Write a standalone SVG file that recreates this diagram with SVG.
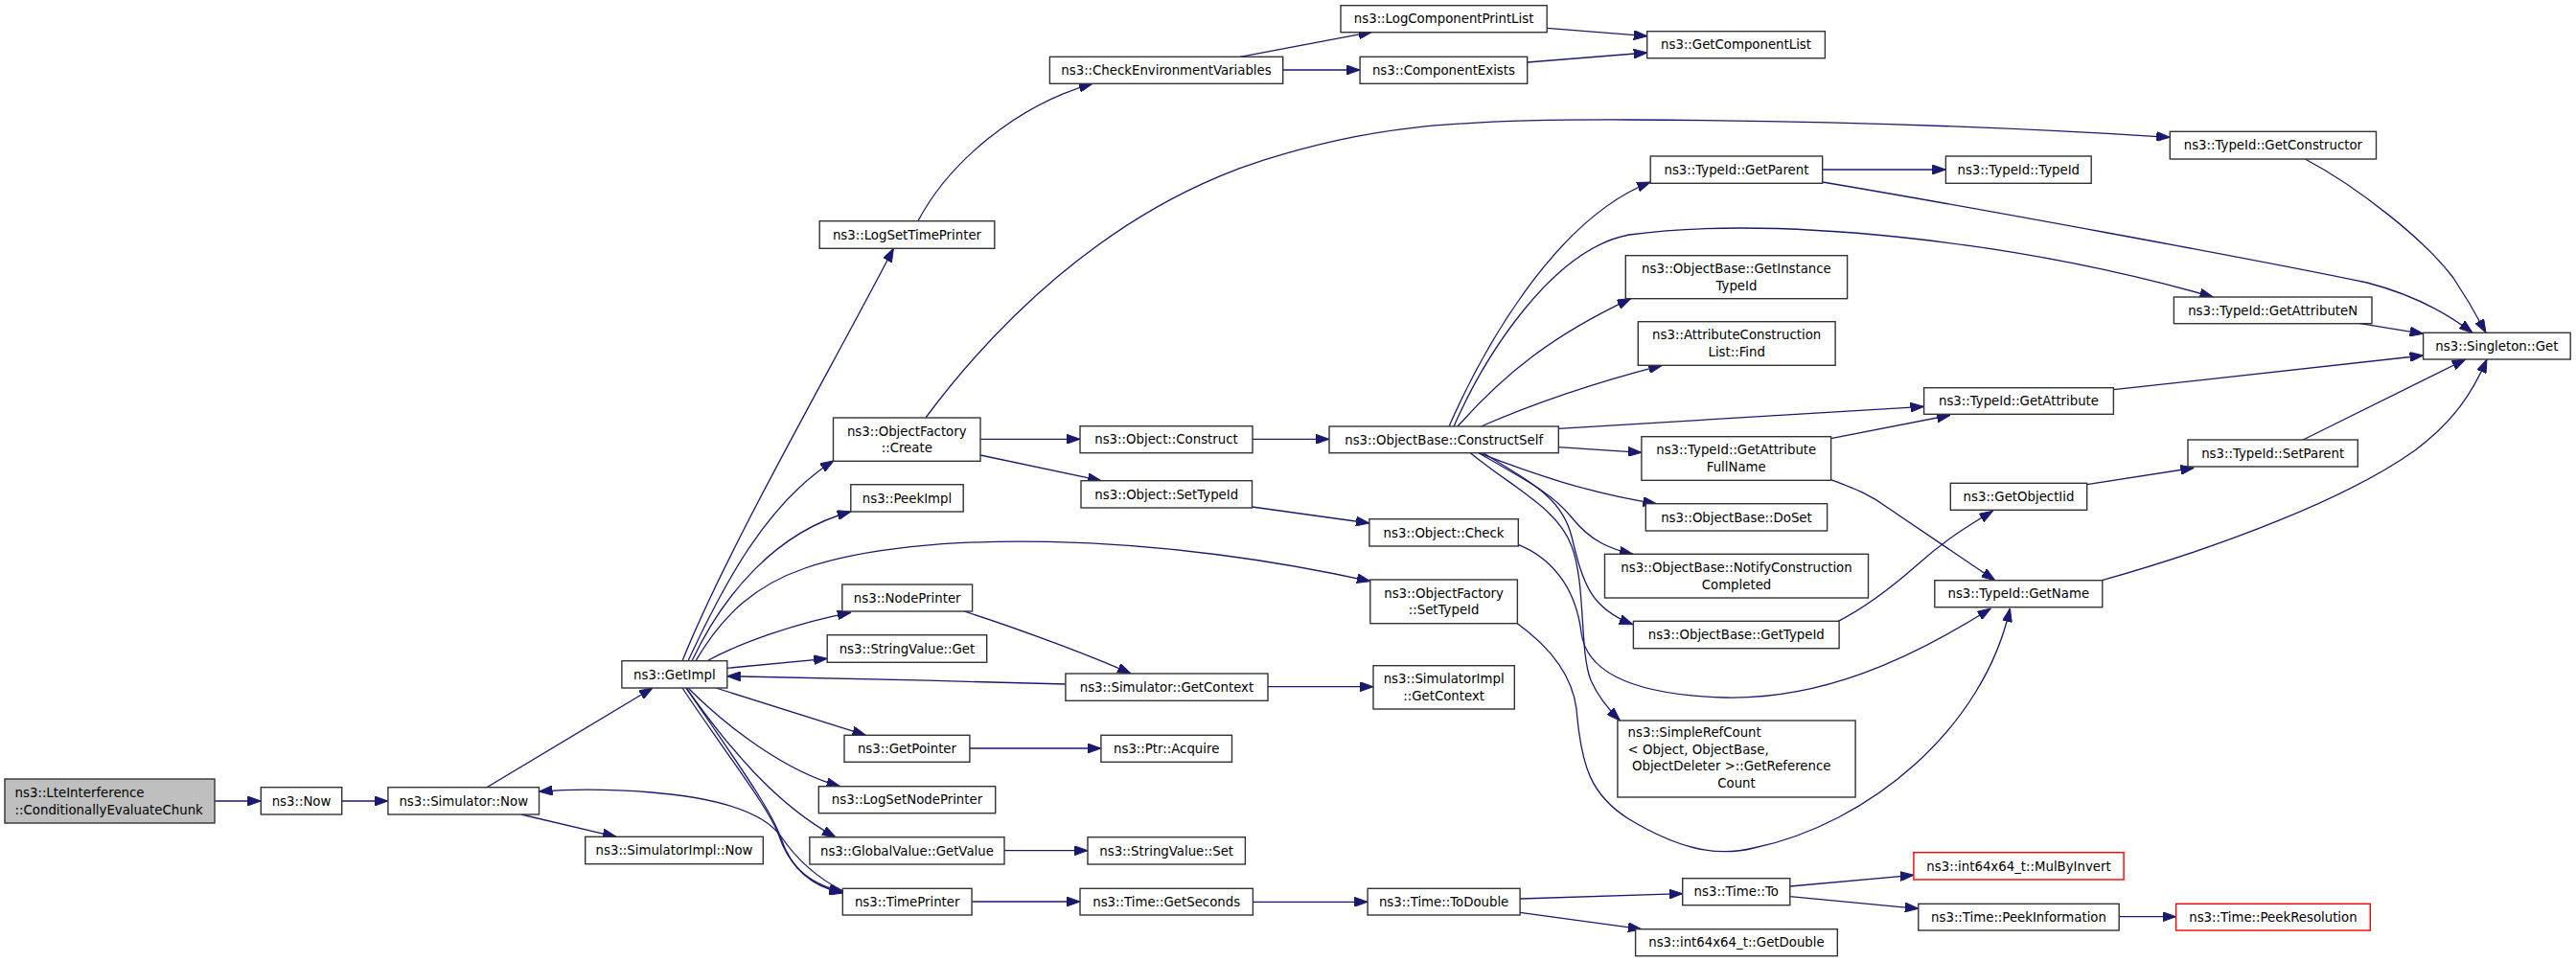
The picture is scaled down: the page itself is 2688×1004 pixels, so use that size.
<svg xmlns="http://www.w3.org/2000/svg" width="2688" height="1004" viewBox="0 0 2688 1004">
<defs>
<marker id="a" markerWidth="14" markerHeight="10" refX="14" refY="5" orient="auto" markerUnits="userSpaceOnUse"><path d="M0,0 L14,5 L0,10 z" fill="#191970" stroke="#191970" stroke-width="1"/></marker>
<style>
.n rect{fill:#ffffff;stroke:#333333;stroke-width:1.4}
.root rect{fill:#bfbfbf}
.red rect{stroke:#ff0000}
text{font-family:"DejaVu Sans","Liberation Sans",sans-serif;font-size:13.3px;fill:#000000;text-anchor:middle}
text.l{text-anchor:start}
#edges path{fill:none;stroke:#191970;stroke-width:1.3;marker-end:url(#a)}
</style>
</defs>
<rect x="0" y="0" width="2688" height="1004" fill="#ffffff"/>
<g id="edges">
<path d="M224,836 L272.3,836"/>
<path d="M356.7,836 L404.9,836"/>
<path d="M508,821.7 L681,718"/>
<path d="M543.8,850 L643,873.3"/>
<path d="M880,930 C850,915 830,895 815,873 C795,845 740,832 680,827 C630,823 590,824 562.5,826"/>
<path d="M712,689.7 C760,570 870,380 932.4,259.3"/>
<path d="M718,689.7 C755,610 800,525 870,480.7"/>
<path d="M722,689.7 C755,620 810,555 887.8,534"/>
<path d="M726,689.7 C755,640 790,610 840,593 C960,552 1200,556 1429.8,606.7"/>
<path d="M738,689.7 C770,672 830,650 887.8,639.3"/>
<path d="M758.8,697.3 L863.2,687.3"/>
<path d="M1111.9,714 C1000,711 850,707 758.8,705.7"/>
<path d="M1006,638 C1060,655 1140,685 1180,703"/>
<path d="M747,718 L903.4,767.3"/>
<path d="M1011.9,781 L1148.9,781"/>
<path d="M718,718 C760,760 820,805 876.6,820.7"/>
<path d="M716,718 C760,780 810,840 872,873.7"/>
<path d="M712,718 C760,790 800,840 812,870 C822,900 840,922 879.3,930.7"/>
<path d="M716,718 C765,790 805,845 815,875 C825,905 845,925 879.3,932"/>
<path d="M1048,887.7 L1135,887.7"/>
<path d="M1014.1,941 L1127,941"/>
<path d="M1307.4,941.3 L1427.1,941.3"/>
<path d="M1586.1,938 L1755.7,932.7"/>
<path d="M1586.1,952.3 L1712.9,969.7"/>
<path d="M1867.8,925 L1996.9,913.3"/>
<path d="M1867.8,935.7 L2001.8,948.3"/>
<path d="M2211.2,956.7 L2270.6,956.7"/>
<path d="M1323,716.7 L1433,716.7"/>
<path d="M957.9,230.7 C990,170 1060,110 1140,87.3"/>
<path d="M965.9,436 C1030,350 1150,220 1320,166.7 C1420,135 1500,124 1700,125 C1950,126 2150,136 2264.3,143.3"/>
<path d="M1294,59.3 L1431.6,33.3"/>
<path d="M1338.7,73 L1419.1,73"/>
<path d="M1614.2,29.3 L1718.7,37.7"/>
<path d="M1593.7,65 L1718.7,55"/>
<path d="M1307,458.3 L1387,458.3"/>
<path d="M1023,458.3 L1127,458.3"/>
<path d="M1023,475 L1149,501.7"/>
<path d="M1306.5,529 L1428.9,546"/>
<path d="M1512,445 C1545,370 1620,230 1722.2,190"/>
<path d="M1517,445 C1550,370 1620,260 1700,245 C1850,225 2100,250 2309.4,310"/>
<path d="M1521,445 C1570,390 1620,350 1701.7,311.7"/>
<path d="M1545.4,445 Q1630,408 1734.3,381.3"/>
<path d="M1626.3,447.3 L2007.5,424.3"/>
<path d="M1626.3,466.7 L1712.9,472.3"/>
<path d="M1910.6,457.7 L2035,433.3"/>
<path d="M1543,472.7 C1600,495 1660,515 1728.5,525.7"/>
<path d="M1543,472.7 C1590,500 1620,515 1640,540 C1660,565 1680,573 1703.9,578.3"/>
<path d="M1547.7,472.7 C1600,505 1630,520 1640,560 C1652,610 1660,635 1703.9,651.7"/>
<path d="M1534.3,472.7 C1580,510 1625,530 1640,570 C1655,610 1648,680 1660,710 C1668,728 1678,740 1690.5,752"/>
<path d="M1584.3,568.3 C1625,585 1645,620 1650,660 C1655,700 1700,725 1800,728 C1900,730 1990,690 2077.3,635"/>
<path d="M1583.4,650.7 C1610,670 1640,700 1645,740 C1650,800 1660,830 1700,855 C1750,885 1790,895 1830,885 C1950,860 2070,760 2097.4,635"/>
<path d="M1910.6,500.7 C1935,510 1950,515 1970,530 L2081.75,605.7"/>
<path d="M1918.2,648.3 C1950,632 1975,612 2000,590 C2030,563 2055,548 2079.5,533.3"/>
<path d="M2177.7,505.7 L2289.3,488.3"/>
<path d="M2403.2,459 L2572.8,375"/>
<path d="M2193.4,605.7 C2320,570 2450,520 2520,470 C2560,440 2580,410 2595,375"/>
<path d="M2205.4,406.7 L2528.6,371"/>
<path d="M2461.2,337.3 L2528.6,348.3"/>
<path d="M2405.4,166 C2460,195 2530,250 2560,290 C2580,320 2590,340 2594,347.3"/>
<path d="M1901.7,190 C2050,215 2350,270 2470,295 C2520,308 2555,328 2580,347.3"/>
<path d="M1901.7,177 L2030.4,177"/>
</g>
<g id="n_lte" class="n root"><rect x="5" y="813" width="219" height="46"/><text class="l" x="15.6" y="831.8">ns3::LteInterference</text><text class="l" x="15.6" y="849.5">::ConditionallyEvaluateChunk</text></g>
<g id="n_now" class="n"><rect x="272.3" y="821.7" width="84.4" height="28.3"/><text x="314.5" y="840.6">ns3::Now</text></g>
<g id="n_simnow" class="n"><rect x="404.9" y="821.7" width="157.6" height="28.3"/><text x="483.7" y="840.6">ns3::Simulator::Now</text></g>
<g id="n_getimpl" class="n"><rect x="648.9" y="689.7" width="109.9" height="28.3"/><text x="703.85" y="708.55">ns3::GetImpl</text></g>
<g id="n_simimplnow" class="n"><rect x="610.7" y="873.3" width="185.6" height="28.4"/><text x="703.5" y="892.2">ns3::SimulatorImpl::Now</text></g>
<g id="n_logsettimeprinter" class="n"><rect x="855.2" y="230.7" width="182.6" height="28.6"/><text x="946.5" y="249.7">ns3::LogSetTimePrinter</text></g>
<g id="n_ofcreate" class="n"><rect x="869.5" y="436" width="153.5" height="45.3"/><text x="946.25" y="454.5">ns3::ObjectFactory</text><text x="946.25" y="472.2">::Create</text></g>
<g id="n_peekimpl" class="n"><rect x="887.8" y="505.7" width="117.4" height="28.3"/><text x="946.5" y="524.55">ns3::PeekImpl</text></g>
<g id="n_nodeprinter" class="n"><rect x="878.8" y="610" width="135.8" height="28"/><text x="946.7" y="628.7">ns3::NodePrinter</text></g>
<g id="n_svget" class="n"><rect x="863.2" y="662.7" width="166.5" height="28.6"/><text x="946.45" y="681.7">ns3::StringValue::Get</text></g>
<g id="n_getpointer" class="n"><rect x="881" y="767.3" width="130.9" height="28"/><text x="946.45" y="786">ns3::GetPointer</text></g>
<g id="n_logsetnodeprinter" class="n"><rect x="854.3" y="820.7" width="184.4" height="28"/><text x="946.5" y="839.4">ns3::LogSetNodePrinter</text></g>
<g id="n_gvgetvalue" class="n"><rect x="844.9" y="873.7" width="203.1" height="28.3"/><text x="946.45" y="892.55">ns3::GlobalValue::GetValue</text></g>
<g id="n_timeprinter" class="n"><rect x="879.3" y="927.3" width="134.8" height="27.7"/><text x="946.7" y="945.85">ns3::TimePrinter</text></g>
<g id="n_checkenv" class="n"><rect x="1095.4" y="59.3" width="243.3" height="28"/><text x="1217" y="78">ns3::CheckEnvironmentVariables</text></g>
<g id="n_objconstruct" class="n"><rect x="1127" y="444.7" width="180" height="28"/><text x="1217" y="463.4">ns3::Object::Construct</text></g>
<g id="n_objsettypeid" class="n"><rect x="1128" y="501.7" width="178.5" height="28.3"/><text x="1217.25" y="520.55">ns3::Object::SetTypeId</text></g>
<g id="n_simgetcontext" class="n"><rect x="1111.9" y="703" width="211.1" height="28.3"/><text x="1217.45" y="721.85">ns3::Simulator::GetContext</text></g>
<g id="n_ptracquire" class="n"><rect x="1148.9" y="767.3" width="136.6" height="28"/><text x="1217.2" y="786">ns3::Ptr::Acquire</text></g>
<g id="n_svset" class="n"><rect x="1135" y="873.7" width="164.4" height="28.3"/><text x="1217.2" y="892.55">ns3::StringValue::Set</text></g>
<g id="n_getseconds" class="n"><rect x="1127" y="927.3" width="180.4" height="27.7"/><text x="1217.2" y="945.85">ns3::Time::GetSeconds</text></g>
<g id="n_logcompprint" class="n"><rect x="1399" y="5.7" width="215.2" height="28"/><text x="1506.6" y="24.4">ns3::LogComponentPrintList</text></g>
<g id="n_compexists" class="n"><rect x="1419.1" y="59.3" width="174.6" height="28"/><text x="1506.4" y="78">ns3::ComponentExists</text></g>
<g id="n_constructself" class="n"><rect x="1387" y="445" width="239.3" height="27.7"/><text x="1506.65" y="463.55">ns3::ObjectBase::ConstructSelf</text></g>
<g id="n_objcheck" class="n"><rect x="1428.9" y="541.7" width="155.4" height="28.3"/><text x="1506.6" y="560.55">ns3::Object::Check</text></g>
<g id="n_ofsettypeid" class="n"><rect x="1429.8" y="605" width="153.6" height="45.7"/><text x="1506.6" y="623.7">ns3::ObjectFactory</text><text x="1506.6" y="641.4">::SetTypeId</text></g>
<g id="n_simimplgetcontext" class="n"><rect x="1433" y="694.7" width="147.3" height="45.3"/><text x="1506.65" y="713.2">ns3::SimulatorImpl</text><text x="1506.65" y="730.9">::GetContext</text></g>
<g id="n_todouble" class="n"><rect x="1427.1" y="927.3" width="159" height="27.7"/><text x="1506.6" y="945.85">ns3::Time::ToDouble</text></g>
<g id="n_getcomplist" class="n"><rect x="1718.7" y="32.7" width="185.7" height="28"/><text x="1811.55" y="51.4">ns3::GetComponentList</text></g>
<g id="n_getparent" class="n"><rect x="1722.2" y="163" width="179.5" height="28.3"/><text x="1811.95" y="181.85">ns3::TypeId::GetParent</text></g>
<g id="n_getinstancetypeid" class="n"><rect x="1696.3" y="266.7" width="231.3" height="45"/><text x="1811.95" y="285.05">ns3::ObjectBase::GetInstance</text><text x="1811.95" y="302.75">TypeId</text></g>
<g id="n_aclfind" class="n"><rect x="1709.3" y="335.7" width="205.8" height="45.6"/><text x="1812.2" y="354.35">ns3::AttributeConstruction</text><text x="1812.2" y="372.05">List::Find</text></g>
<g id="n_getattrfullname" class="n"><rect x="1712.9" y="455.7" width="197.7" height="45.6"/><text x="1811.75" y="474.35">ns3::TypeId::GetAttribute</text><text x="1811.75" y="492.05">FullName</text></g>
<g id="n_doset" class="n"><rect x="1717.3" y="525.7" width="189.3" height="28.3"/><text x="1811.95" y="544.55">ns3::ObjectBase::DoSet</text></g>
<g id="n_notify" class="n"><rect x="1674.5" y="578.3" width="275" height="45.7"/><text x="1812" y="597">ns3::ObjectBase::NotifyConstruction</text><text x="1812" y="614.7">Completed</text></g>
<g id="n_obgettypeid" class="n"><rect x="1704.4" y="648.3" width="214.7" height="28.4"/><text x="1811.75" y="667.2">ns3::ObjectBase::GetTypeId</text></g>
<g id="n_simplerefcount" class="n"><rect x="1687.9" y="752" width="248.2" height="80"/><text class="l" x="1698.6" y="769">ns3::SimpleRefCount</text><text class="l" x="1698.6" y="786.5">&lt; Object, ObjectBase,</text><text class="l" x="1703" y="804">ObjectDeleter &gt;::GetReference</text><text x="1812" y="821.5">Count</text></g>
<g id="n_timeto" class="n"><rect x="1755.7" y="916.7" width="112.1" height="28"/><text x="1811.75" y="935.4">ns3::Time::To</text></g>
<g id="n_getdouble" class="n"><rect x="1706.6" y="969.7" width="210.7" height="28"/><text x="1811.95" y="988.4">ns3::int64x64_t::GetDouble</text></g>
<g id="n_typeidtypeid" class="n"><rect x="2030.4" y="163" width="151.8" height="28.3"/><text x="2106.3" y="181.85">ns3::TypeId::TypeId</text></g>
<g id="n_getattribute" class="n"><rect x="2007.6" y="404.7" width="197.8" height="27.6"/><text x="2106.5" y="423.2">ns3::TypeId::GetAttribute</text></g>
<g id="n_getobjectiid" class="n"><rect x="2035.3" y="504.3" width="142.4" height="28"/><text x="2106.5" y="523">ns3::GetObjectIid</text></g>
<g id="n_getname" class="n"><rect x="2018.8" y="605.7" width="175" height="28"/><text x="2106.3" y="624.4">ns3::TypeId::GetName</text></g>
<g id="n_mulbyinvert" class="n red"><rect x="1996.9" y="889.7" width="219.2" height="28.3"/><text x="2106.5" y="908.55">ns3::int64x64_t::MulByInvert</text></g>
<g id="n_peekinformation" class="n"><rect x="2001.8" y="943.3" width="209.4" height="27.7"/><text x="2106.5" y="961.85">ns3::Time::PeekInformation</text></g>
<g id="n_getconstructor" class="n"><rect x="2264.3" y="137.3" width="215.2" height="28.7"/><text x="2371.9" y="156.35">ns3::TypeId::GetConstructor</text></g>
<g id="n_getattributen" class="n"><rect x="2268.4" y="310" width="206.6" height="27.7"/><text x="2371.7" y="328.55">ns3::TypeId::GetAttributeN</text></g>
<g id="n_setparent" class="n"><rect x="2283" y="459" width="177.3" height="28"/><text x="2371.65" y="477.7">ns3::TypeId::SetParent</text></g>
<g id="n_peekresolution" class="n red"><rect x="2270.6" y="943.3" width="202.7" height="27.7"/><text x="2371.95" y="961.85">ns3::Time::PeekResolution</text></g>
<g id="n_singletonget" class="n"><rect x="2528.6" y="347.3" width="153.6" height="27.7"/><text x="2605.4" y="365.85">ns3::Singleton::Get</text></g>
</svg>
